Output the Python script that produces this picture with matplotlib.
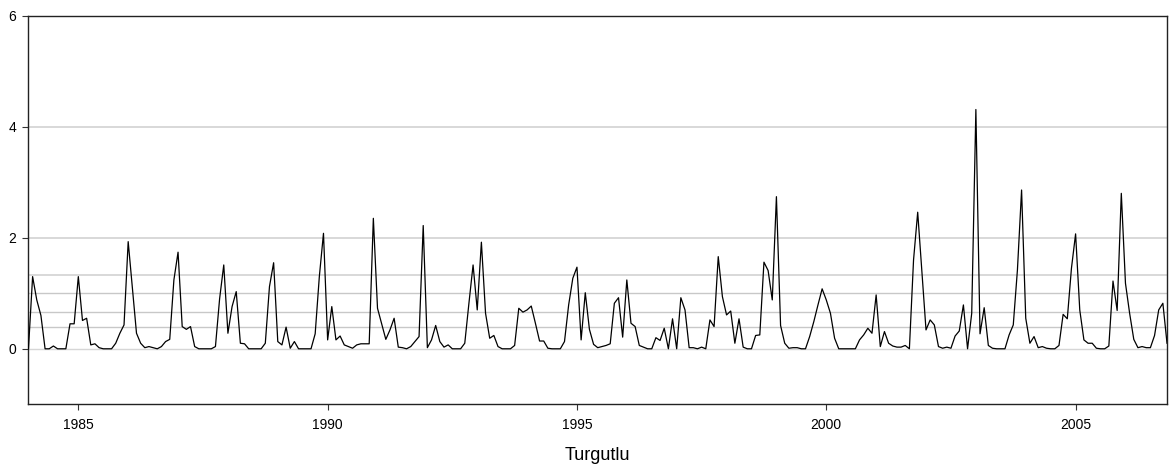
import numpy as np
import matplotlib
matplotlib.use("Agg")
import matplotlib.pyplot as plt

plt.rcParams['font.family'] = ['Liberation Sans', 'DejaVu Sans']

# Monthly series, Turgutlu (first value = January 1984)
start_year = 1984
y1984 = [0.00, 1.30, 0.88, 0.60, 0.00, 0.00, 0.05, 0.00, 0.00, 0.00, 0.45, 0.45]
y1985 = [1.30, 0.51, 0.55, 0.07, 0.09, 0.02, 0.00, 0.00, 0.00, 0.10, 0.28, 0.43]
y1986 = [1.93, 1.10, 0.28, 0.10, 0.02, 0.04, 0.02, 0.00, 0.04, 0.13, 0.17, 1.24]
y1987 = [1.74, 0.40, 0.35, 0.40, 0.04, 0.00, 0.00, 0.00, 0.00, 0.04, 0.90, 1.51]
y1988 = [0.28, 0.76, 1.03, 0.10, 0.09, 0.00, 0.00, 0.00, 0.00, 0.10, 1.12, 1.55]
y1989 = [0.13, 0.07, 0.39, 0.01, 0.13, 0.00, 0.00, 0.00, 0.00, 0.27, 1.30, 2.08]
y1990 = [0.16, 0.76, 0.16, 0.23, 0.07, 0.04, 0.01, 0.07, 0.09, 0.09, 0.09, 2.35]
y1991 = [0.73, 0.45, 0.17, 0.34, 0.55, 0.03, 0.02, 0.00, 0.04, 0.13, 0.22, 2.22]
y1992 = [0.02, 0.16, 0.42, 0.13, 0.03, 0.07, 0.00, 0.00, 0.00, 0.10, 0.82, 1.51]
y1993 = [0.70, 1.92, 0.64, 0.19, 0.24, 0.04, 0.00, 0.00, 0.00, 0.06, 0.73, 0.66]
y1994 = [0.70, 0.77, 0.46, 0.14, 0.14, 0.01, 0.00, 0.00, 0.00, 0.13, 0.79, 1.27]
y1995 = [1.47, 0.16, 1.01, 0.35, 0.08, 0.02, 0.04, 0.06, 0.09, 0.82, 0.92, 0.21]
y1996 = [1.24, 0.46, 0.40, 0.06, 0.03, 0.00, 0.00, 0.20, 0.15, 0.37, 0.00, 0.54]
y1997 = [0.00, 0.92, 0.70, 0.02, 0.02, 0.00, 0.03, 0.00, 0.52, 0.40, 1.66, 0.94]
y1998 = [0.61, 0.68, 0.10, 0.54, 0.03, 0.00, 0.00, 0.24, 0.25, 1.56, 1.41, 0.88]
y1999 = [2.74, 0.42, 0.10, 0.01, 0.02, 0.02, 0.00, 0.00, 0.22, 0.49, 0.79, 1.08]
y2000 = [0.88, 0.64, 0.19, 0.00, 0.00, 0.00, 0.00, 0.00, 0.16, 0.25, 0.37, 0.28]
y2001 = [0.97, 0.04, 0.31, 0.10, 0.05, 0.03, 0.03, 0.06, 0.00, 1.60, 2.46, 1.40]
y2002 = [0.34, 0.52, 0.43, 0.04, 0.01, 0.03, 0.01, 0.23, 0.32, 0.79, 0.00, 0.64]
y2003 = [4.31, 0.27, 0.74, 0.06, 0.01, 0.00, 0.00, 0.00, 0.25, 0.43, 1.42, 2.86]
y2004 = [0.55, 0.10, 0.22, 0.02, 0.04, 0.01, 0.00, 0.00, 0.06, 0.62, 0.54, 1.45]
y2005 = [2.07, 0.70, 0.16, 0.10, 0.10, 0.01, 0.00, 0.00, 0.05, 1.22, 0.69, 2.80]
y2006 = [1.18, 0.64, 0.17, 0.02, 0.04, 0.02, 0.02, 0.24, 0.70, 0.82, 0.10]

years = [y1984, y1985, y1986, y1987, y1988, y1989, y1990, y1991, y1992,
         y1993, y1994, y1995, y1996, y1997, y1998, y1999, y2000, y2001,
         y2002, y2003, y2004, y2005, y2006]

x_ticks = [1985, 1990, 1995, 2000, 2005]
y_ticks = [0, 2, 4, 6]
ref_levels = [0, 0.4, 2 / 3, 1.0, 4 / 3, 2, 4]
station = "Turgutlu"

values = np.concatenate([np.asarray(v, dtype=float) for v in years])
t = start_year + np.arange(len(values)) / 12.0

fig = plt.figure(figsize=(11.71, 4.71), dpi=100)
ax = fig.add_axes([0.0243, 0.1416, 0.9723, 0.8251])

for lvl in ref_levels:
    col = '#d6d6d6' if lvl in (2, 4, 4 / 3, 0) else '#c8c8c8'
    lw = 1.3 if lvl in (2, 4, 4 / 3) else 1.0
    ax.axhline(lvl, color=col, lw=lw, zorder=1)

ax.plot(t, values, color='black', lw=0.9, zorder=3)

ax.set_xlim(t[0], t[-1])
ax.set_ylim(-1, 6)
ax.set_xticks(x_ticks)
ax.set_yticks(y_ticks)
ax.tick_params(axis='both', labelsize=10, length=4, width=0.8, color='#333333')
ax.tick_params(axis='x', pad=6)
ax.tick_params(axis='y', pad=5)
for s in ax.spines.values():
    s.set_linewidth(1.0)
    s.set_color('#222222')

ax.set_xlabel(station, fontsize=13, labelpad=11)

fig.savefig("out.png", dpi=100)
